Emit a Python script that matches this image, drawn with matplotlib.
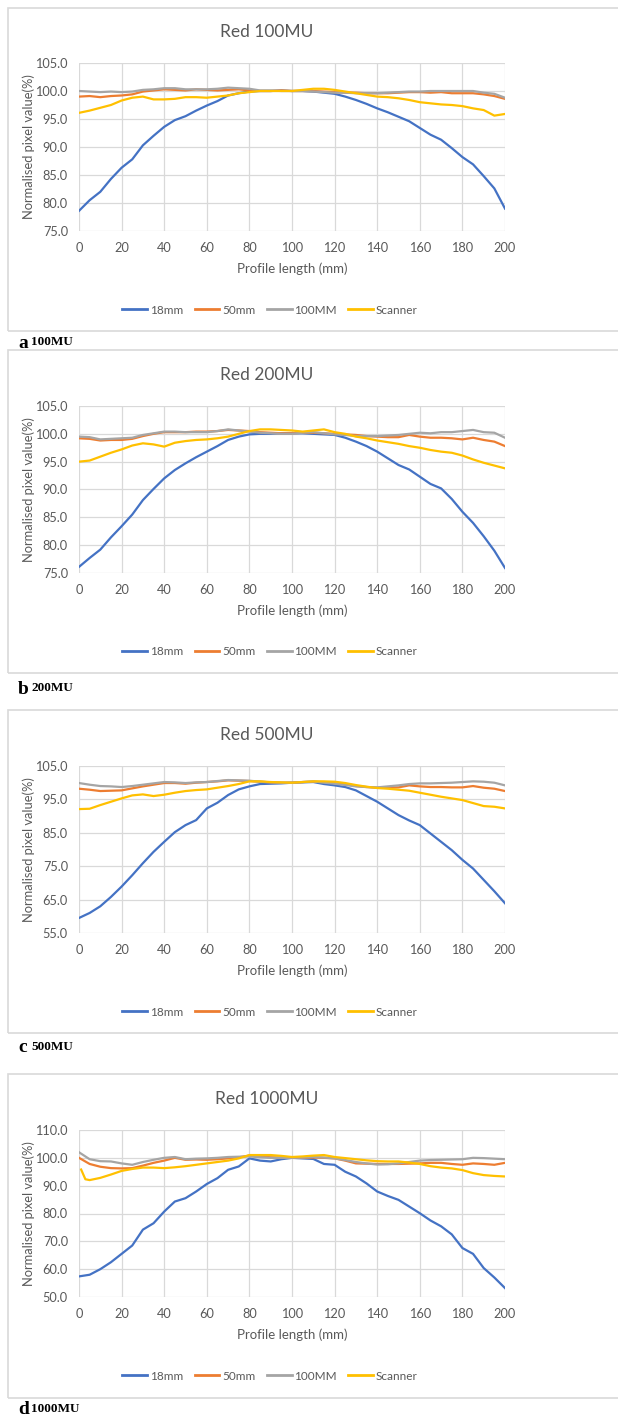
import matplotlib
matplotlib.use("Agg")
import matplotlib.pyplot as plt
from matplotlib.patches import Rectangle
from matplotlib.lines import Line2D

plt.rcParams['font.family'] = ['Lato', 'DejaVu Sans']

# x positions (mm), every 5 mm
x = list(range(0, 201, 5))
x_d_scan = [1, 3] + list(range(5, 201, 5))

series_names = ["18mm", "50mm", "100MM", "Scanner"]
colors = ["#4472C4", "#ED7D31", "#A5A5A5", "#FFC000"]

# ---- a: Red 100MU
a_18 = [78.6, 80.5, 82.0, 84.3, 86.3, 87.8, 90.3, 92.0, 93.6, 94.8, 95.5, 96.5, 97.4, 98.2, 99.2, 99.6, 99.9,
        100.0, 100.0, 100.1, 100.0, 100.0, 99.9, 99.7, 99.5, 99.0, 98.4, 97.7, 96.9, 96.2, 95.4, 94.6, 93.4,
        92.2, 91.3, 89.8, 88.2, 86.9, 84.8, 82.6, 79.0]
a_50 = [99.0, 99.1, 98.9, 99.1, 99.2, 99.4, 99.9, 100.1, 100.3, 100.2, 100.1, 100.3, 100.2, 100.1, 100.2, 100.3,
        100.1, 100.0, 100.0, 100.1, 100.0, 100.0, 100.0, 99.9, 99.8, 99.7, 99.7, 99.6, 99.6, 99.6, 99.7, 99.8,
        99.8, 99.7, 99.8, 99.6, 99.6, 99.6, 99.4, 99.1, 98.6]
a_100 = [100.0, 99.9, 99.8, 99.9, 99.8, 99.9, 100.2, 100.3, 100.5, 100.5, 100.3, 100.3, 100.3, 100.4, 100.6,
         100.5, 100.4, 100.1, 100.1, 100.0, 100.0, 100.0, 99.9, 99.8, 99.7, 99.7, 99.6, 99.6, 99.6, 99.7, 99.8,
         99.9, 99.9, 100.0, 100.0, 100.0, 100.0, 100.0, 99.7, 99.5, 98.8]
a_scan = [96.1, 96.5, 97.0, 97.5, 98.3, 98.8, 99.0, 98.5, 98.5, 98.6, 98.9, 98.9, 98.8, 99.0, 99.2, 99.6, 99.8,
          100.0, 100.0, 100.0, 100.0, 100.2, 100.4, 100.4, 100.2, 99.9, 99.6, 99.3, 99.0, 98.9, 98.7, 98.4,
          98.0, 97.8, 97.6, 97.5, 97.3, 96.9, 96.6, 95.6, 95.9]

# ---- b: Red 200MU
b_18 = [76.1, 77.7, 79.2, 81.4, 83.4, 85.5, 88.1, 90.1, 92.0, 93.5, 94.7, 95.8, 96.8, 97.8, 98.9, 99.5, 99.9,
        100.0, 100.0, 100.1, 100.1, 100.1, 100.0, 99.9, 99.8, 99.3, 98.6, 97.8, 96.8, 95.6, 94.4, 93.6, 92.3,
        91.0, 90.2, 88.3, 86.0, 84.0, 81.6, 79.0, 75.9]
b_50 = [99.2, 99.1, 98.8, 98.9, 98.9, 99.1, 99.6, 100.0, 100.3, 100.3, 100.3, 100.4, 100.4, 100.5, 100.7, 100.6,
        100.5, 100.3, 100.2, 100.1, 100.1, 100.2, 100.2, 100.1, 100.0, 99.9, 99.8, 99.6, 99.5, 99.4, 99.4, 99.8,
        99.5, 99.3, 99.3, 99.2, 99.0, 99.3, 98.9, 98.6, 97.8]
b_100 = [99.5, 99.4, 99.0, 99.1, 99.2, 99.3, 99.8, 100.1, 100.4, 100.4, 100.3, 100.3, 100.3, 100.5, 100.8, 100.6,
         100.4, 100.2, 100.1, 100.0, 100.0, 100.2, 100.3, 100.1, 99.9, 99.8, 99.6, 99.6, 99.6, 99.7, 99.8, 100.0,
         100.2, 100.1, 100.3, 100.3, 100.5, 100.7, 100.3, 100.2, 99.3]
b_scan = [95.0, 95.2, 95.9, 96.6, 97.2, 97.9, 98.3, 98.1, 97.7, 98.4, 98.7, 98.9, 99.0, 99.2, 99.5, 100.0, 100.5,
          100.8, 100.8, 100.7, 100.6, 100.4, 100.6, 100.8, 100.3, 100.0, 99.5, 99.2, 98.8, 98.5, 98.2, 97.8,
          97.5, 97.1, 96.8, 96.6, 96.1, 95.4, 94.8, 94.3, 93.8]

# ---- c: Red 500MU
c_18 = [59.5, 61.0, 63.0, 65.8, 68.9, 72.3, 75.9, 79.3, 82.3, 85.2, 87.3, 88.8, 92.3, 94.0, 96.3, 98.0, 98.9,
        99.6, 99.7, 99.8, 100.0, 100.1, 100.2, 99.6, 99.2, 98.7, 97.7, 96.0, 94.3, 92.3, 90.3, 88.7, 87.3,
        84.8, 82.3, 79.8, 76.9, 74.3, 70.9, 67.5, 63.9]
c_50 = [98.2, 97.9, 97.5, 97.6, 97.7, 98.3, 98.9, 99.4, 99.9, 99.9, 99.7, 100.0, 100.2, 100.4, 100.7, 100.6,
        100.5, 100.3, 100.1, 100.0, 100.0, 100.2, 100.3, 100.2, 100.0, 99.6, 99.0, 98.7, 98.5, 98.5, 98.6, 99.2,
        98.9, 98.7, 98.7, 98.6, 98.6, 99.0, 98.5, 98.2, 97.5]
c_100 = [99.9, 99.4, 99.0, 98.9, 98.7, 99.0, 99.4, 99.8, 100.2, 100.1, 99.9, 100.1, 100.2, 100.5, 100.8, 100.7,
         100.6, 100.3, 100.1, 100.0, 100.0, 100.2, 100.4, 100.0, 99.7, 99.3, 98.9, 98.7, 98.6, 98.9, 99.2, 99.6,
         99.8, 99.8, 99.9, 100.0, 100.2, 100.4, 100.3, 100.0, 99.2]
c_scan = [92.1, 92.2, 93.3, 94.3, 95.3, 96.2, 96.5, 96.0, 96.4, 97.0, 97.5, 97.8, 98.0, 98.5, 99.0, 99.6, 100.4,
          100.4, 100.2, 100.1, 100.0, 100.2, 100.4, 100.4, 100.3, 99.9, 99.3, 98.8, 98.4, 98.2, 97.9, 97.6,
          97.0, 96.4, 95.8, 95.3, 94.8, 93.9, 93.0, 92.8, 92.3]

# ---- d: Red 1000MU
d_18 = [57.4, 58.0, 60.0, 62.5, 65.5, 68.5, 74.2, 76.5, 80.7, 84.3, 85.5, 87.9, 90.6, 92.7, 95.7, 96.9, 99.8,
        99.0, 98.7, 99.5, 100.0, 99.8, 99.6, 97.8, 97.5, 95.0, 93.3, 90.8, 87.9, 86.3, 84.9, 82.5, 80.1,
        77.5, 75.4, 72.5, 67.6, 65.5, 60.4, 57.0, 53.2]
d_50 = [100.0, 97.8, 96.8, 96.3, 96.2, 96.3, 97.2, 98.2, 99.0, 100.0, 99.3, 99.4, 99.3, 99.5, 99.8, 100.2, 100.8,
        100.5, 100.2, 100.1, 100.0, 100.0, 100.1, 100.0, 99.8, 99.0, 98.0, 97.9, 97.8, 97.8, 97.8, 97.9, 98.0,
        98.2, 98.2, 97.8, 97.5, 98.0, 97.8, 97.5, 98.2]
d_100 = [102.0, 99.5, 98.8, 98.7, 98.0, 97.5, 98.5, 99.3, 100.0, 100.3, 99.5, 99.7, 99.8, 100.0, 100.3, 100.4,
         100.5, 100.2, 100.0, 100.0, 100.0, 100.1, 100.3, 100.1, 99.8, 99.2, 98.5, 98.0, 97.6, 97.7, 98.0, 98.5,
         99.0, 99.2, 99.3, 99.4, 99.5, 100.0, 99.9, 99.7, 99.5]
d_scan = [95.8, 92.3, 92.0, 92.8, 94.0, 95.3, 96.0, 96.5, 96.5, 96.3, 96.6, 97.0, 97.5, 98.0, 98.5, 99.0, 99.8,
          101.0, 101.0, 101.0, 100.7, 100.3, 100.5, 100.8, 101.0, 100.3, 99.9, 99.5, 99.1, 98.8, 98.7, 98.7,
          98.3, 97.8, 97.0, 96.5, 96.2, 95.6, 94.5, 93.8, 93.5, 93.3]

titles = ["Red 100MU", "Red 200MU", "Red 500MU", "Red 1000MU"]
letters = ["a", "b", "c", "d"]
sublabels = ["100MU", "200MU", "500MU", "1000MU"]
ylims = [(75, 105), (75, 105), (55, 105), (50, 110)]
ysteps = [5, 5, 10, 10]

panels = [
    [(x, a_18), (x, a_50), (x, a_100), (x, a_scan)],
    [(x, b_18), (x, b_50), (x, b_100), (x, b_scan)],
    [(x, c_18), (x, c_50), (x, c_100), (x, c_scan)],
    [(x, d_18), (x, d_50), (x, d_100), (x_d_scan, d_scan)],
]

# layout in pixels (from top)
W, H = 618, 1418
box_top = [8, 350, 710, 1074]
box_bot = [331, 673, 1033, 1398]
ax_top = [63, 406, 766, 1130]
ax_bot = [231, 573, 933, 1297]
label_y = [342, 688, 1047, 1409]
ax_left, ax_right = 79, 505

txt = "#595959"
grid_c = "#d9d9d9"

fig = plt.figure(figsize=(W / 100, H / 100), dpi=100)

def fy(p):
    return 1 - p / H

for i in range(4):
    fig.patches.append(Rectangle((8 / W, fy(box_bot[i])), 640 / W, (box_bot[i] - box_top[i]) / H,
                                 transform=fig.transFigure, fill=False, edgecolor=grid_c, lw=1.2))
    ax = fig.add_axes([ax_left / W, fy(ax_bot[i]), (ax_right - ax_left) / W, (ax_bot[i] - ax_top[i]) / H])
    for (xs, ys), c, n in zip(panels[i], colors, series_names):
        ax.plot(xs, ys, color=c, lw=1.6, label=n)
    lo, hi = ylims[i]
    ax.set_xlim(0, 200)
    ax.set_ylim(lo, hi)
    ax.set_xticks(range(0, 201, 20))
    ax.set_yticks(range(lo, hi + 1, ysteps[i]))
    ax.set_yticklabels(["%.1f" % v for v in range(lo, hi + 1, ysteps[i])])
    ax.grid(True, color=grid_c, lw=0.9)
    ax.set_axisbelow(True)
    for s in ax.spines.values():
        s.set_visible(False)
    ax.tick_params(length=0, labelcolor=txt, labelsize=9.2)
    ax.tick_params(axis='x', pad=8)
    ax.tick_params(axis='y', pad=8)

    fig.text(267 / W, fy(ax_top[i] - 31), titles[i], ha='center', va='center', fontsize=12.5, color=txt)
    fig.text(292 / W, fy(ax_bot[i] + 38), "Profile length (mm)", ha='center', va='center', fontsize=9.5, color=txt)
    fig.text(29 / W, fy((ax_top[i] + ax_bot[i]) / 2), "Normalised pixel value(%)", ha='center', va='center',
             rotation=90, fontsize=9.3, color=txt)

    handles = [Line2D([0], [0], color=c, lw=2) for c in colors]
    fig.legend(handles, series_names, loc='center', bbox_to_anchor=(270 / W, fy(ax_bot[i] + 79)), ncol=4,
               frameon=False, fontsize=8.5, labelcolor=txt, handlelength=2.1, handletextpad=0.2,
               columnspacing=1.0)

    fig.text(18 / W, fy(label_y[i] + 1), letters[i], ha='left', va='center', fontsize=14, fontweight='bold',
             family='Liberation Serif', color='black')
    fig.text(31 / W, fy(label_y[i]), sublabels[i], ha='left', va='center', fontsize=9.5, fontweight='bold',
             family='Liberation Serif', color='black')

fig.savefig("out.png", dpi=100)
